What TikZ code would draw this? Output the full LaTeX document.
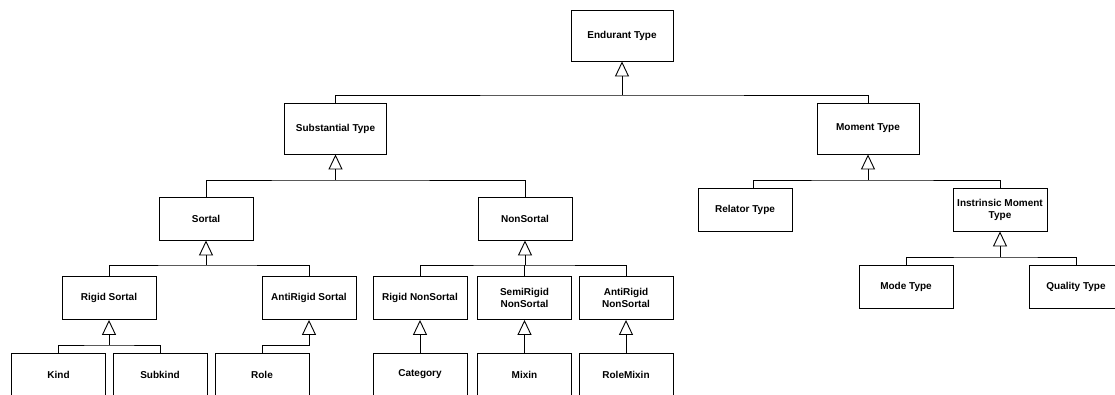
\documentclass[tikz,border=0pt]{standalone}
\usepackage{fontspec}
\setmainfont{Liberation Sans}
\usetikzlibrary{arrows.meta}

\tikzset{
  typebox/.style={draw, minimum width=94pt, minimum height=43pt, inner sep=1pt,
    align=center, font=\bfseries\fontsize{10}{12}\selectfont},
  bigbox/.style={typebox, minimum width=102pt, minimum height=51pt},
  gen/.style={-{Triangle[open, length=15pt, width=14pt]}}
}

\begin{document}
\begin{tikzpicture}[x=1pt, y=-1pt, line width=0.9pt]
  \useasboundingbox (0,0) rectangle (1115,394);
  % top levels
  \node[bigbox] (endurant) at (622,35.5) {Endurant Type};
  \node[bigbox] (substantial) at (335.5,128.5) {Substantial Type};
  \node[bigbox] (moment) at (868,128.5) {Moment Type};
  % second level
  \node[typebox] (sortal) at (206,218.5) {Sortal};
  \node[typebox] (nonsortal) at (525,218.5) {NonSortal};
  \node[typebox] (relator) at (745,209.5) {Relator Type};
  \node[typebox] (intrinsic) at (1000,209.5) {Instrinsic Moment\\Type};
  % third level
  \node[typebox] (rigidsortal) at (109,298) {Rigid Sortal};
  \node[typebox] (antirigidsortal) at (309,298) {AntiRigid Sortal};
  \node[typebox] (rigidnonsortal) at (420,298) {Rigid NonSortal};
  \node[typebox] (semirigid) at (524.5,298) {SemiRigid\\NonSortal};
  \node[typebox] (antirigidnonsortal) at (626,298) {AntiRigid\\NonSortal};
  \node[typebox] (mode) at (906,287) {Mode Type};
  \node[typebox] (quality) at (1076,287) {Quality Type};
  % bottom row, cut by the page edge
  \node[typebox] (kind) at (58.5,374.5) {Kind};
  \node[typebox] (subkind) at (160,374.5) {Subkind};
  \node[typebox] (role) at (262,374.5) {Role};
  \node[typebox] (category) at (420,374.5) {Category};
  \node[typebox] (mixin) at (524.5,374.5) {Mixin};
  \node[typebox] (rolemixin) at (626,374.5) {RoleMixin};

  % generalization bars
  \coordinate (endurantbar) at (622,95);
  \coordinate (substantialbar) at (335.5,180);
  \coordinate (momentbar) at (868,180);
  \coordinate (sortalbar) at (206,265);
  \coordinate (nonsortalbar) at (525,265);
  \coordinate (intrinsicbar) at (1000,257);
  \coordinate (rigidsortalbar) at (109,345);
  \coordinate (antirigidbar) at (309,345);

  % Endurant Type
  \draw[gen] (endurantbar) -- (endurant.south);
  \draw (substantial.north) |- (endurantbar) -| (moment.north);
  % Substantial Type
  \draw[gen] (substantialbar) -- (substantial.south);
  \draw (sortal.north) |- (substantialbar) -| (nonsortal.north);
  % Moment Type
  \draw[gen] (momentbar) -- (moment.south);
  \draw ([xshift=8]relator.north) |- (momentbar) -| (intrinsic.north);
  % Sortal
  \draw[gen] (sortalbar) -- (sortal.south);
  \draw (rigidsortal.north) |- (sortalbar) -| (antirigidsortal.north);
  % NonSortal
  \draw[gen] (nonsortalbar) -- (nonsortal.south);
  \draw (rigidnonsortal.north) |- (nonsortalbar) -| (antirigidnonsortal.north);
  \draw (semirigid.north) -- (semirigid.north |- nonsortalbar);
  % Instrinsic Moment Type
  \draw[gen] (intrinsicbar) -- (intrinsic.south);
  \draw (mode.north) |- (intrinsicbar) -| (quality.north);
  % Rigid Sortal
  \draw[gen] (rigidsortalbar) -- (rigidsortal.south);
  \draw (kind.north) |- (rigidsortalbar) -| (subkind.north);
  % AntiRigid Sortal
  \draw[gen] (role.north) |- (antirigidbar) -- (antirigidsortal.south);
  % NonSortal children
  \draw[gen] (category.north) -- (rigidnonsortal.south);
  \draw[gen] (mixin.north) -- (semirigid.south);
  \draw[gen] (rolemixin.north) -- (antirigidnonsortal.south);
\end{tikzpicture}
\end{document}
